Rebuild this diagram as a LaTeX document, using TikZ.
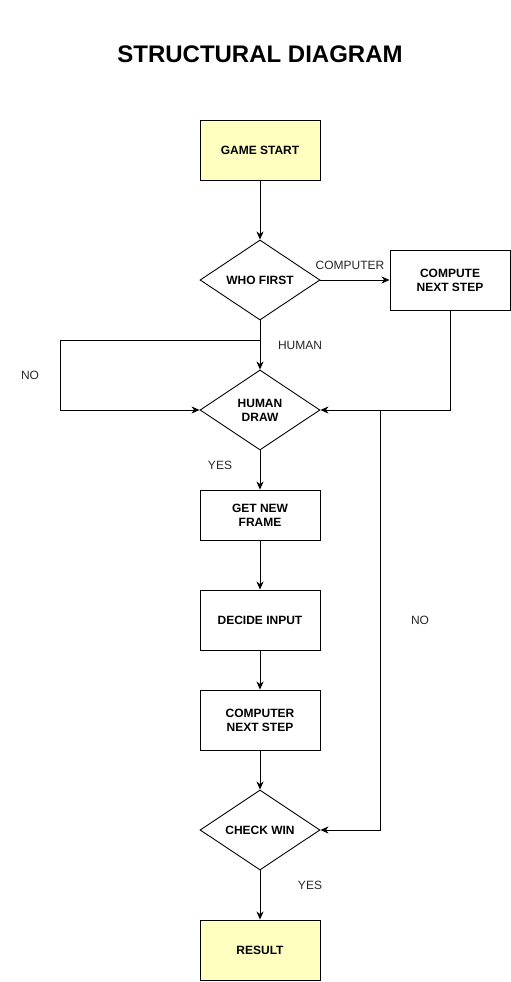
\documentclass[tikz,border=0pt]{standalone}
\usepackage{fontspec}
\setmainfont{Liberation Sans}
\usetikzlibrary{shapes.geometric,arrows.meta}
\definecolor{startfill}{HTML}{FFFFC0}
\tikzset{
  box/.style={draw, line width=0.9pt, minimum width=120pt, minimum height=60pt, inner sep=0pt, align=center, font=\fontsize{12}{14}\selectfont\bfseries},
  dec/.style={draw, line width=0.9pt, diamond, aspect=1.5, minimum width=120pt, minimum height=80pt, inner sep=0pt, align=center, font=\fontsize{12}{14}\selectfont\bfseries},
  term/.style={box, fill=startfill},
  conn/.style={line width=0.9pt, -{Stealth[length=8pt,width=7pt,inset=2.5pt]}},
  lbl/.style={font=\fontsize{12}{14}\selectfont, text=black!85}
}
\begin{document}
\begin{tikzpicture}[x=1pt,y=-1pt]
\useasboundingbox (0,0) rectangle (511,982);
\node[font=\fontsize{24}{28}\selectfont\bfseries] (title) at (260,54) {STRUCTURAL DIAGRAM};
\node[term] (start) at (260,150) {GAME START};
\node[dec] (who) at (260,280) {WHO FIRST};
\node[box] (comp) at (450,280) {COMPUTE\\NEXT STEP};
\node[dec] (hdraw) at (260,410) {HUMAN\\DRAW};
\node[box, minimum height=50pt] (frame) at (260,515) {GET NEW\\FRAME};
\node[box] (decide) at (260,620) {DECIDE INPUT};
\node[box] (cnext) at (260,720) {COMPUTER\\NEXT STEP};
\node[dec] (check) at (260,830) {CHECK WIN};
\node[term] (result) at (260,950) {RESULT};

\coordinate (loopA) at (260,340);
\coordinate (noX) at (380,410);

\draw[conn] (start) -- (who);
\draw[conn] (who.east) -- (comp.west);
\node[lbl] (lcomp) at (350,265) {COMPUTER};
\draw[conn] (who.south) -- (hdraw.north);
\node[lbl] (lhuman) at (300,345) {HUMAN};
\draw[conn] (loopA) -- (60,340) -- (60,410) -- (hdraw.west);
\node[lbl] (lno1) at (30,375) {NO};
\draw[conn] (comp.south) |- (hdraw.east);
\draw[conn] (hdraw.south) -- (frame.north);
\node[lbl] (lyes1) at (220,465) {YES};
\draw[conn] (frame) -- (decide);
\draw[conn] (decide) -- (cnext);
\draw[conn] (cnext) -- (check);
\draw[conn] (noX) |- (check.east);
\node[lbl] (lno2) at (420,620) {NO};
\draw[conn] (check.south) -- (result.north);
\node[lbl] (lyes2) at (310,885) {YES};
\end{tikzpicture}
\end{document}
